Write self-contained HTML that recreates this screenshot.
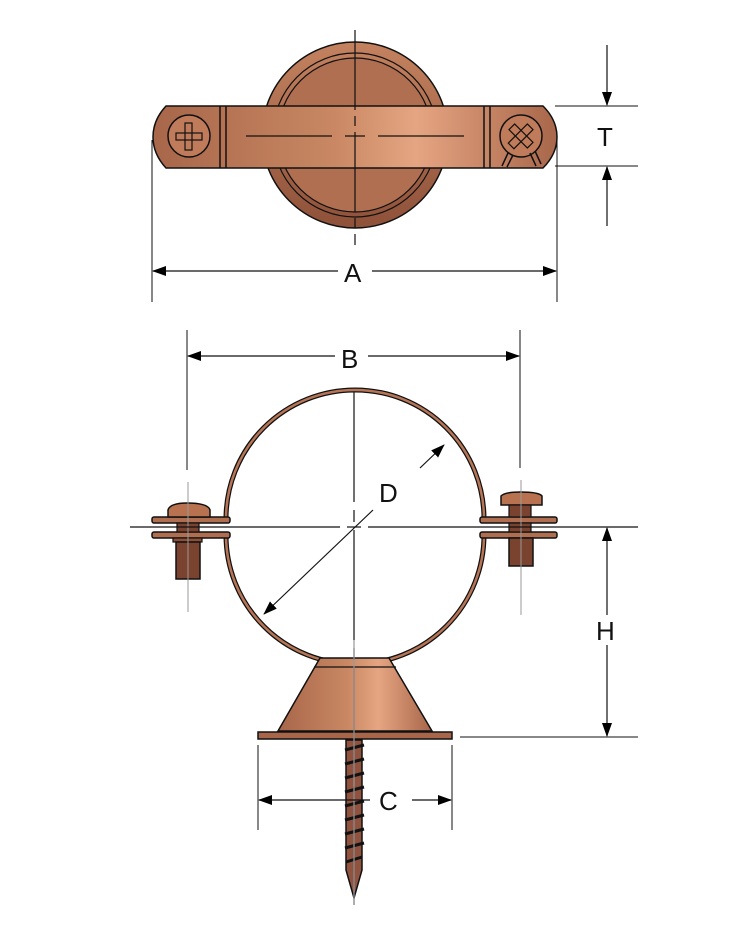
<!DOCTYPE html>
<html><head><meta charset="utf-8"><style>
html,body{margin:0;padding:0;background:#fff;}
svg{display:block;}
text{font-family:"Liberation Sans",sans-serif;font-size:26px;fill:#111;}
</style></head><body>
<svg width="754" height="938" viewBox="0 0 754 938" xmlns="http://www.w3.org/2000/svg">
<defs>
<linearGradient id="cu" x1="0" y1="0" x2="1" y2="0">
<stop offset="0" stop-color="#a8664a"/><stop offset="0.45" stop-color="#c98863"/><stop offset="0.65" stop-color="#e6a582"/><stop offset="1" stop-color="#a8664a"/>
</linearGradient>
<linearGradient id="cu2" x1="0" y1="0" x2="0" y2="1">
<stop offset="0" stop-color="#c4825f"/><stop offset="1" stop-color="#8e5139"/>
</linearGradient>
<marker id="ar" markerWidth="14" markerHeight="10" refX="13" refY="5" orient="auto" markerUnits="userSpaceOnUse">
<path d="M0,0 L14,5 L0,10 Z" fill="#000"/></marker>
</defs>

<!-- TOP VIEW -->
<circle cx="355" cy="135" r="93" fill="url(#cu2)" stroke="#111" stroke-width="1.5"/>
<circle cx="355" cy="135" r="82" fill="none" stroke="#111" stroke-width="1.2"/>
<circle cx="355" cy="135" r="77" fill="#b06f50" stroke="#111" stroke-width="1.2"/>
<circle cx="355" cy="135" r="26" fill="#c27f5e" stroke="#111" stroke-width="1.2"/>
<path d="M166,106 L543,106 Q557,120 557,137 Q557,154 543,168 L166,168 Q153,154 153,137 Q153,120 166,106 Z" fill="url(#cu)" stroke="#111" stroke-width="1.5"/>
<line x1="220" y1="106" x2="220" y2="168" stroke="#111" stroke-width="1.5"/>
<line x1="226" y1="106" x2="226" y2="168" stroke="#111" stroke-width="1.5"/>
<line x1="484" y1="106" x2="484" y2="168" stroke="#111" stroke-width="1.5"/>
<line x1="490" y1="106" x2="490" y2="168" stroke="#111" stroke-width="1.5"/>
<line x1="246" y1="136" x2="332" y2="136" stroke="#111" stroke-width="1.2"/>
<line x1="378" y1="136" x2="464" y2="136" stroke="#111" stroke-width="1.2"/>
<circle cx="189" cy="136" r="21" fill="#c07b5a" stroke="#111" stroke-width="1.5"/>
<rect x="176" y="133" width="26" height="7" fill="none" stroke="#111" stroke-width="1.2"/>
<rect x="185" y="123" width="7" height="27" fill="none" stroke="#111" stroke-width="1.2"/>
<circle cx="521" cy="136" r="21" fill="#c07b5a" stroke="#111" stroke-width="1.5"/>
<g transform="rotate(45 521 136)"><rect x="508" y="132" width="26" height="8" fill="none" stroke="#111" stroke-width="1.2"/><rect x="517" y="123" width="8" height="27" fill="none" stroke="#111" stroke-width="1.2"/></g>
<path d="M508,153 L502,166 M513,155 L507,167 M530,153 L536,166 M535,151 L541,164" stroke="#111" stroke-width="1.5"/>
<line x1="355" y1="30" x2="355" y2="245" stroke="#111" stroke-width="1.2" stroke-dasharray="80,6,10,6"/>
<line x1="345" y1="136" x2="365" y2="136" stroke="#111" stroke-width="1.2"/>

<!-- A dim -->
<line x1="152" y1="140" x2="152" y2="302" stroke="#111" stroke-width="1"/>
<line x1="557" y1="140" x2="557" y2="302" stroke="#111" stroke-width="1"/>
<line x1="338" y1="271" x2="153" y2="271" stroke="#111" stroke-width="1.2" marker-end="url(#ar)"/>
<line x1="372" y1="271" x2="556" y2="271" stroke="#111" stroke-width="1.2" marker-end="url(#ar)"/>
<text x="344" y="282">A</text>
<!-- T dim -->
<line x1="555" y1="106" x2="638" y2="106" stroke="#111" stroke-width="1"/>
<line x1="555" y1="166" x2="638" y2="166" stroke="#111" stroke-width="1"/>
<line x1="607" y1="45" x2="607" y2="105" stroke="#111" stroke-width="1.2" marker-end="url(#ar)"/>
<line x1="607" y1="226" x2="607" y2="167" stroke="#111" stroke-width="1.2" marker-end="url(#ar)"/>
<text x="597" y="146">T</text>

<!-- BOTTOM VIEW -->
<!-- B dim -->
<line x1="187" y1="330" x2="187" y2="470" stroke="#111" stroke-width="1"/>
<line x1="520" y1="330" x2="520" y2="468" stroke="#111" stroke-width="1"/>
<line x1="335" y1="356" x2="188" y2="356" stroke="#111" stroke-width="1.2" marker-end="url(#ar)"/>
<line x1="368" y1="356" x2="519" y2="356" stroke="#111" stroke-width="1.2" marker-end="url(#ar)"/>
<text x="341" y="368">B</text>

<!-- ring -->
<path d="M226,519 A128,128 0 1 1 484,519" fill="none" stroke="#111" stroke-width="5"/>
<path d="M226,519 A128,128 0 1 1 484,519" fill="none" stroke="#b77556" stroke-width="2.5"/>
<path d="M226,535 A128,128 0 1 0 484,535" fill="none" stroke="#111" stroke-width="5"/>
<path d="M226,535 A128,128 0 1 0 484,535" fill="none" stroke="#b77556" stroke-width="2.5"/>
<!-- flanges -->
<rect x="152" y="517" width="78" height="6" rx="2" fill="#b06e50" stroke="#111" stroke-width="1.5"/>
<rect x="152" y="532" width="78" height="6" rx="2" fill="#b06e50" stroke="#111" stroke-width="1.5"/>
<rect x="480" y="517" width="77" height="6" rx="2" fill="#b06e50" stroke="#111" stroke-width="1.5"/>
<rect x="480" y="532" width="77" height="6" rx="2" fill="#b06e50" stroke="#111" stroke-width="1.5"/>
<!-- left bolt -->
<path d="M168,517 L168,510 Q170,503 187,503 Q208,503 210,510 L210,517 Z" fill="#b87250" stroke="#111" stroke-width="1.5"/>
<rect x="177" y="523" width="22" height="9" fill="#7a4330" stroke="#111" stroke-width="1.2"/>
<rect x="173" y="538" width="29" height="4" fill="#8d4f38" stroke="#111" stroke-width="1.2"/>
<rect x="176" y="542" width="24" height="37" fill="#7a4330" stroke="#111" stroke-width="1.5"/>
<!-- right bolt -->
<path d="M501,505 L501,496 Q505,492 520,492 Q539,492 542,496 L542,505 Z" fill="#b87250" stroke="#111" stroke-width="1.5"/>
<rect x="509" y="505" width="22" height="12" fill="#7a4330" stroke="#111" stroke-width="1.2"/>
<rect x="509" y="523" width="22" height="9" fill="#7a4330" stroke="#111" stroke-width="1.2"/>
<rect x="509" y="538" width="24" height="28" fill="#7a4330" stroke="#111" stroke-width="1.5"/>
<line x1="188" y1="482" x2="188" y2="612" stroke="#999" stroke-width="1"/>
<line x1="521" y1="480" x2="521" y2="615" stroke="#999" stroke-width="1"/>

<!-- base -->
<path d="M320,658 L389,658 L432,731 L278,731 Z" fill="url(#cu)" stroke="#111" stroke-width="1.5"/>
<line x1="314" y1="667" x2="396" y2="667" stroke="#111" stroke-width="1.2"/>
<rect x="258" y="732" width="194" height="7" fill="#a7654a" stroke="#111" stroke-width="1.5"/>
<!-- screw -->
<path d="M346,740 L362,740 L362,870 L354,898 L346,870 Z" fill="#8f5340" stroke="#111" stroke-width="1.5"/>
<g stroke="#111" stroke-width="3">
<line x1="345" y1="750" x2="364" y2="745"/><line x1="345" y1="764" x2="364" y2="759"/><line x1="345" y1="778" x2="364" y2="773"/><line x1="345" y1="792" x2="364" y2="787"/><line x1="345" y1="806" x2="364" y2="801"/><line x1="345" y1="820" x2="364" y2="815"/><line x1="345" y1="834" x2="364" y2="829"/><line x1="345" y1="848" x2="364" y2="843"/><line x1="346" y1="862" x2="362" y2="857"/>
</g>

<!-- center lines -->
<line x1="354" y1="392" x2="354" y2="905" stroke="#111" stroke-width="1.2" stroke-dasharray="110,8,12,8"/>
<line x1="354" y1="640" x2="354" y2="905" stroke="#999" stroke-width="1.2"/>
<line x1="130" y1="527" x2="340" y2="527" stroke="#111" stroke-width="1.2"/>
<line x1="368" y1="527" x2="638" y2="527" stroke="#111" stroke-width="1.2"/>
<line x1="347" y1="527" x2="361" y2="527" stroke="#111" stroke-width="1.2"/>

<!-- D -->
<line x1="373" y1="510" x2="264" y2="614" stroke="#111" stroke-width="1.2" marker-end="url(#ar)"/>
<line x1="420" y1="468" x2="444" y2="445" stroke="#111" stroke-width="1.2" marker-end="url(#ar)"/>
<text x="379" y="502">D</text>

<!-- H dim -->
<line x1="460" y1="737" x2="638" y2="737" stroke="#111" stroke-width="1"/>
<line x1="607" y1="615" x2="607" y2="528" stroke="#111" stroke-width="1.2" marker-end="url(#ar)"/>
<line x1="607" y1="645" x2="607" y2="736" stroke="#111" stroke-width="1.2" marker-end="url(#ar)"/>
<text x="596" y="640">H</text>

<!-- C dim -->
<line x1="258" y1="745" x2="258" y2="830" stroke="#111" stroke-width="1"/>
<line x1="452" y1="745" x2="452" y2="830" stroke="#111" stroke-width="1"/>
<line x1="370" y1="800" x2="259" y2="800" stroke="#111" stroke-width="1.2" marker-end="url(#ar)"/>
<line x1="412" y1="800" x2="451" y2="800" stroke="#111" stroke-width="1.2" marker-end="url(#ar)"/>
<text x="379" y="810">C</text>
</svg>
</body></html>
